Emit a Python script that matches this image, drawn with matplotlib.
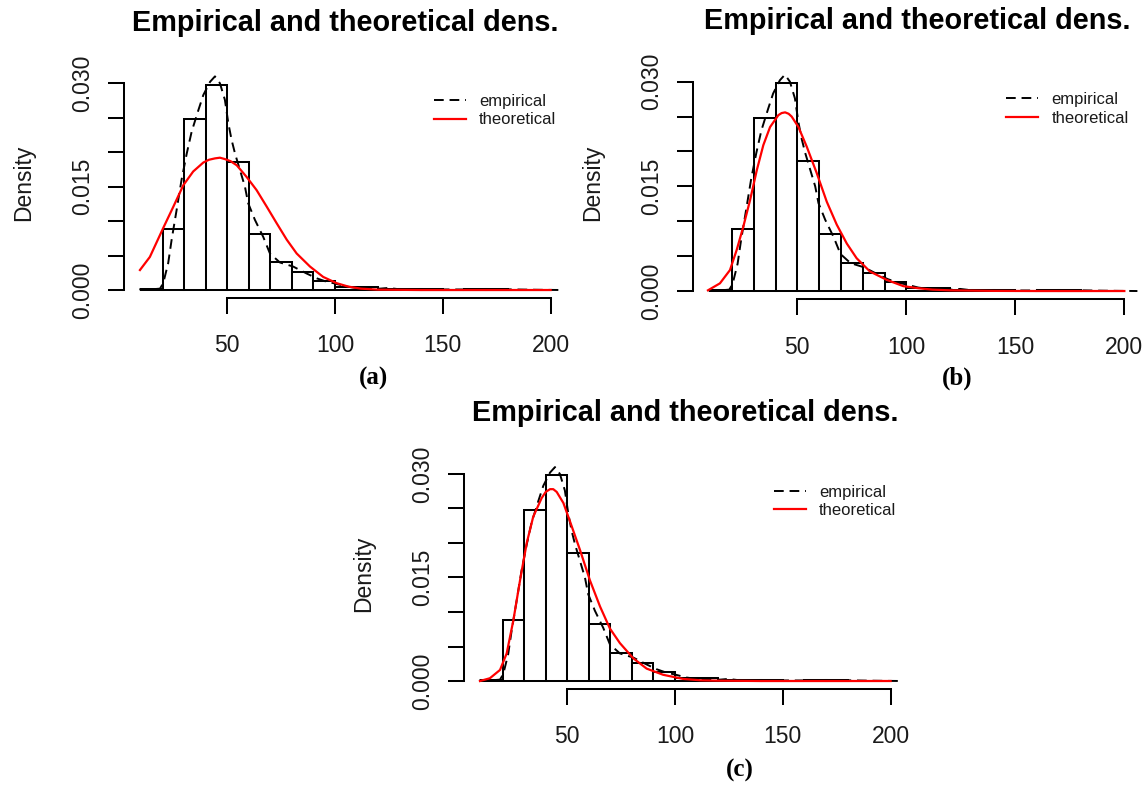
import numpy as np
import matplotlib
matplotlib.use("Agg")
import matplotlib.pyplot as plt

plt.rcParams['font.family'] = ['Liberation Sans', 'DejaVu Sans']

W, H = 1145, 786

# Histogram (same data in all panels): bin edges and densities
bin_edges = [10, 20, 30, 40, 50, 60, 70, 80, 90, 100, 110, 120, 130, 140, 150, 160, 170, 180]
bin_density = [0.0002, 0.0089, 0.0248, 0.0298, 0.0186, 0.0082, 0.0040, 0.0026, 0.00135,
               0.0005, 0.0004, 0.0001, 0.0001, 0.0001, 0.0, 0.0001, 0.0001]

# Empirical density (dashed)
emp_x = [9.2, 12, 15, 18.8, 20.3, 22.6, 24.2, 26.5, 28.8, 31.2, 33.5, 36.6, 38.9, 42.0, 44.3,
         46.6, 48.9, 50.5, 52.0, 53.6, 55.9, 58.2, 59.7, 62.8, 66.7, 69.8, 74.4, 80.6, 86.8,
         91.5, 96.1, 99.2, 105.4, 110, 117.7, 121, 124.7, 130, 140, 150, 160, 170, 180, 190,
         198, 206]
emp_y = [0.0001, 0.0001, 0.0001, 0.0002, 0.0010, 0.0039, 0.0073, 0.0116, 0.0160, 0.0198,
         0.0230, 0.0261, 0.0283, 0.0302, 0.0310, 0.0300, 0.0276, 0.0242, 0.0218, 0.0198,
         0.0174, 0.0150, 0.0126, 0.0102, 0.0077, 0.0053, 0.0040, 0.0034, 0.0024, 0.0017,
         0.0012, 0.0010, 0.0005, 0.0003, 0.0002, 0.0002, 0.0003, 0.0001, 0.0001, 0.00008,
         0.00008, 0.0001, 0.0001, 0.00005, 0.00002, 0.0]

# Theoretical densities (red)
theo_a_x = [9.5, 14.1, 20.3, 25.0, 29.6, 34.2, 38.9, 41.5, 44.3, 46.6, 48.9, 51.5, 54.4, 59.0,
            63.6, 68.3, 72.9, 77.6, 82.2, 88.4, 94.5, 100.7, 106.1, 112, 120, 140, 160, 180, 200]
theo_a_y = [0.0029, 0.0048, 0.0090, 0.0121, 0.0152, 0.0172, 0.0185, 0.0189, 0.0191, 0.0192,
            0.0190, 0.0187, 0.0181, 0.0164, 0.0145, 0.0121, 0.0097, 0.0073, 0.0053, 0.0034,
            0.0019, 0.0010, 0.0005, 0.0002, 0.00005, 0.0, 0.0, 0.0, 0.0]

theo_b_x = [9.0, 14.5, 19.1, 22.2, 25.2, 28.3, 31.4, 34.4, 37.5, 41.3, 42.8, 44.4, 46.0, 47.4,
            50.5, 54.3, 58.9, 63.5, 68.1, 72.7, 77.2, 83.3, 91.0, 98.6, 105.5, 112, 120, 140,
            160, 180, 200]
theo_b_y = [0.0001, 0.0011, 0.0030, 0.0059, 0.0092, 0.0130, 0.0173, 0.0209, 0.0235, 0.0252,
            0.0255, 0.0256, 0.0254, 0.0250, 0.0235, 0.0207, 0.0169, 0.0128, 0.0095, 0.0068,
            0.0047, 0.0028, 0.0016, 0.0007, 0.0004, 0.0002, 0.0001, 0.00002, 0.0, 0.0, 0.0]

theo_c_x = [9.5, 14.1, 18.8, 21.9, 25.0, 28.1, 31.2, 34.2, 38.1, 40.0, 42.0, 43.5, 45.1, 48.2,
            51.3, 55.9, 60.5, 65.2, 69.8, 74.4, 80.6, 86.8, 94.5, 103.8, 112, 120, 140, 160,
            180, 200]
theo_c_y = [0.0, 0.0004, 0.0016, 0.0040, 0.0088, 0.0146, 0.0200, 0.0238, 0.0265, 0.0274,
            0.0278, 0.0278, 0.0274, 0.0258, 0.0231, 0.0190, 0.0146, 0.0108, 0.0076, 0.0055,
            0.0033, 0.0018, 0.0009, 0.0003, 0.0001, 0.00005, 0.0, 0.0, 0.0, 0.0]

x_ticks = [50, 100, 150, 200]
y_ticks = [0.000, 0.005, 0.010, 0.015, 0.020, 0.025, 0.030]
y_ticklabels = ['0.000', '', '', '0.015', '', '', '0.030']
title_text = 'Empirical and theoretical dens.'
legend_labels = ['empirical', 'theoretical']

panels = [
    dict(rect=(124, 68.1, 443, 229.5), tx=theo_a_x, ty=theo_a_y, tag='(a)', tagpos=(373, 378)),
    dict(rect=(692.9, 66.3, 448, 232.4), tx=theo_b_x, ty=theo_b_y, tag='(b)', tagpos=(957, 378)),
    dict(rect=(464, 458.8, 443, 229.8), tx=theo_c_x, ty=theo_c_y, tag='(c)', tagpos=(740, 770)),
]

fig = plt.figure(figsize=(W / 100, H / 100), dpi=100)
fig.patch.set_facecolor('white')

widths = np.diff(bin_edges)
for p in panels:
    l, t, w, h = p['rect']
    ax = fig.add_axes([l / W, 1 - (t + h) / H, w / W, h / H])
    ax.set_facecolor('white')
    ax.bar(bin_edges[:-1], bin_density, width=widths, align='edge',
           facecolor='white', edgecolor='black', linewidth=1.45, zorder=2)
    ax.plot(emp_x, emp_y, color='black', linewidth=1.4, linestyle=(0, (5, 3)),
            label=legend_labels[0], zorder=3)
    ax.plot(p['tx'], p['ty'], color='#ff0000', linewidth=1.6,
            label=legend_labels[1], zorder=4)

    ax.set_xlim(2.1, 207.6)
    ax.set_ylim(-0.0011, 0.0322)
    for s in ['top', 'right']:
        ax.spines[s].set_visible(False)
    ax.spines['left'].set_bounds(0, 0.030)
    ax.spines['bottom'].set_bounds(50, 200)
    for s in ['left', 'bottom']:
        ax.spines[s].set_linewidth(1.45)
    ax.set_xticks(x_ticks)
    ax.set_xticklabels([str(v) for v in x_ticks])
    ax.set_yticks(y_ticks)
    ax.set_yticklabels(y_ticklabels)
    ax.tick_params(axis='both', direction='out', length=11.5, width=1.45,
                   labelsize=16.5, labelcolor='#1a1a1a')
    ax.tick_params(axis='x', pad=15)
    ax.tick_params(axis='y', pad=10, labelrotation=90)
    for lab in ax.get_yticklabels():
        lab.set_va('center')

    ax.set_title(title_text, fontsize=20.8, fontweight='bold', pad=27)
    leg = ax.legend(loc='upper left', bbox_to_anchor=(0.70, 0.888), frameon=False,
                    fontsize=12, handlelength=1.9, handletextpad=0.8,
                    labelspacing=0.22, borderpad=0, borderaxespad=0)
    for txt in leg.get_texts():
        txt.set_color('#1a1a1a')

    fig.text((l - 100) / W, 1 - (t + h / 2) / H, 'Density', rotation=90,
             ha='center', va='center', fontsize=16.5, color='#1a1a1a')
    fig.text(p['tagpos'][0] / W, 1 - p['tagpos'][1] / H, p['tag'],
             ha='center', va='center', fontsize=18, fontweight='bold',
             family=['Liberation Serif', 'DejaVu Serif'])

fig.savefig('out.png', dpi=100, facecolor='white')
